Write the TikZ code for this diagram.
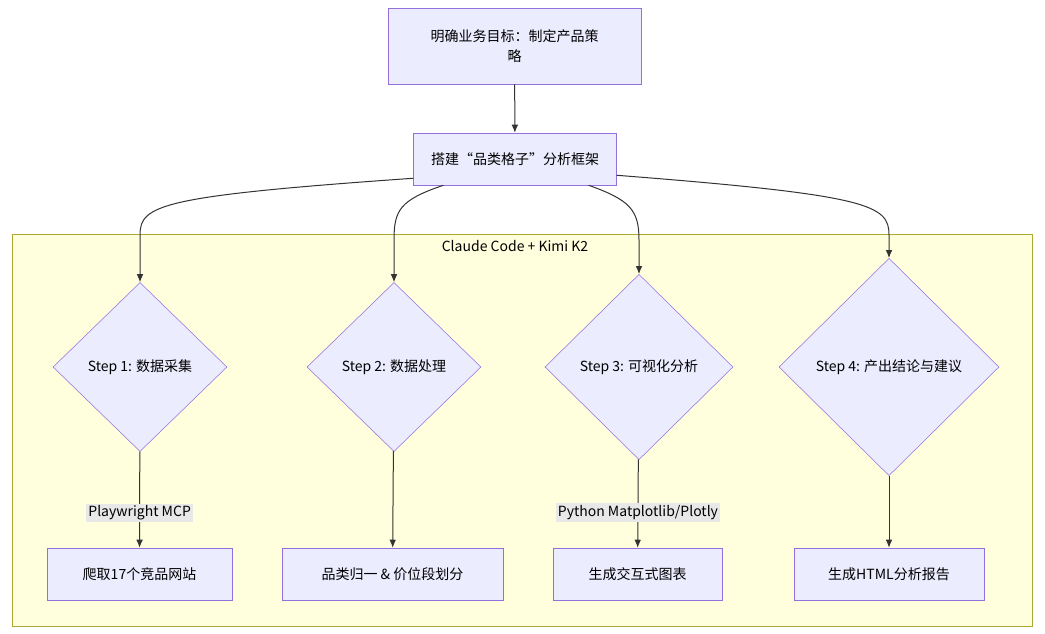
\documentclass[tikz,border=0pt]{standalone}
\usepackage{fontspec}
\setmainfont{Noto Sans CJK SC}
\usetikzlibrary{shapes.geometric, arrows.meta}
\definecolor{boxfill}{HTML}{ECECFF}
\definecolor{boxline}{HTML}{9370DB}
\definecolor{arrowc}{HTML}{333333}
\definecolor{clusterfill}{HTML}{FFFFDE}
\definecolor{clusterline}{HTML}{AAAA33}
\definecolor{labelbg}{HTML}{E8E8E8}
\begin{document}
\begin{tikzpicture}[
    x=0.75pt, y=-0.75pt,
    task/.style={rectangle, draw=boxline, fill=boxfill, align=center, font=\fontsize{10.5}{15}\selectfont, inner sep=0pt},
    check/.style={diamond, draw=boxline, fill=boxfill, align=center, font=\fontsize{10.5}{15}\selectfont, inner sep=0pt},
    flow/.style={draw=arrowc, line width=0.75pt, -{Latex[length=6pt,width=5pt]}},
    tool/.style={fill=labelbg, font=\fontsize{10.5}{13}\selectfont, inner sep=1.5pt}
]
    \useasboundingbox (0,0) rectangle (1045,634);

    % Rahmen
    \node[draw=clusterline, fill=clusterfill, minimum width=765pt, minimum height=294pt, inner sep=0pt] (cluster) at (522,430) {};
    \node[font=\fontsize{10.5}{13}\selectfont] (clabel) at (515,246) {Claude Code + Kimi K2};

    % Ziele
    \node[task, minimum width=190pt, minimum height=57pt] (goal) at (514.5,46) {明确业务目标：制定产品策\\略};
    \node[task, minimum width=152pt, minimum height=39pt] (frame) at (515,159) {搭建“品类格子”分析框架};

    % Schritte
    \node[check, minimum width=130.5pt, minimum height=126.75pt] (s1) at (140,367) {Step 1: 数据采集};
    \node[check, minimum width=130.5pt, minimum height=126.75pt] (s2) at (394,367) {Step 2: 数据处理};
    \node[check, minimum width=141pt, minimum height=139pt] (s3) at (639,367) {Step 3: 可视化分析};
    \node[check, minimum width=165pt, minimum height=163pt] (s4) at (889,367) {Step 4: 产出结论与建议};

    % Ergebnisse
    \node[task, minimum width=139pt, minimum height=39pt] (out1) at (139.5,574) {爬取17个竞品网站};
    \node[task, minimum width=166pt, minimum height=39pt] (out2) at (392.5,574) {品类归一 \& 价位段划分};
    \node[task, minimum width=127pt, minimum height=39pt] (out3) at (637.5,574) {生成交互式图表};
    \node[task, minimum width=142.5pt, minimum height=39pt] (out4) at (889,574) {生成HTML分析报告};

    % Verbindungen
    \draw[flow] (goal) -- (frame);
    \draw[flow] (frame.south west) ++(0,-7) .. controls (160,196) and (140,205) .. (140,235) -- (s1.north);
    \draw[flow] (frame.south west) ++(30,0) .. controls (400,200) and (394,210) .. (394,240) -- (s2.north);
    \draw[flow] (frame.south east) ++(-28,0) .. controls (630,200) and (639,210) .. (639,240) -- (s3.north);
    \draw[flow] (frame.south east) ++(0,-10) .. controls (870,195) and (889,205) .. (889,235) -- (s4.north);
    \draw[flow] (s1) -- node[tool, pos=0.64] {Playwright MCP} (out1);
    \draw[flow] (s2) -- (out2);
    \draw[flow] (s3) -- node[tool, pos=0.6] {Python Matplotlib/Plotly} (out3);
    \draw[flow] (s4) -- (out4);
\end{tikzpicture}
\end{document}
